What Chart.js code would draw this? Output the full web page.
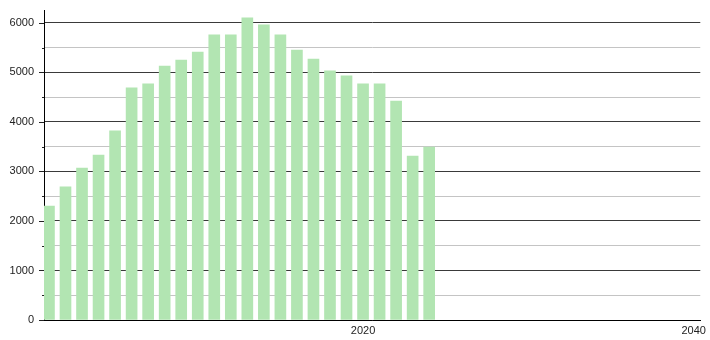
<!DOCTYPE html>
<html>
<head>
<meta charset="utf-8">
<script src="https://cdn.jsdelivr.net/npm/chart.js@4"></script>
<style>
  html, body { margin: 0; padding: 0; background: #fff; }
  canvas { display: block; }
</style>
</head>
<body>
<canvas id="grafico" width="710" height="340"></canvas>
<script>
// anos e valores
const anos = [2001, 2002, 2003, 2004, 2005, 2006, 2007, 2008, 2009, 2010, 2011, 2012,
  2013, 2014, 2015, 2016, 2017, 2018, 2019, 2020, 2021, 2022, 2023, 2024];
const valores = [2300, 2690, 3070, 3330, 3820, 4690, 4770, 5130, 5250, 5410, 5760, 5760,
  6100, 5960, 5760, 5450, 5270, 5030, 4930, 4770, 4770, 4420, 3310, 3490];
const rotulosX = [2020, 2040];
const ticksY = [0, 500, 1000, 1500, 2000, 2500, 3000, 3500, 4000, 4500, 5000, 5500, 6000];

const FONTE = { family: '"Liberation Sans", Arial, sans-serif', size: 11 };

// marcas do eixo y: maiores nos milhares, menores nos 500
const marcasY = {
  id: 'marcasY',
  afterDraw(chart) {
    const y = chart.scales.y;
    const ctx = chart.ctx;
    ctx.save();
    ctx.strokeStyle = '#222';
    ctx.lineWidth = 1;
    y.ticks.forEach((t) => {
      const py = Math.round(y.getPixelForValue(t.value)) + 0.5;
      const len = t.value % 1000 === 0 ? 5 : 2;
      ctx.beginPath();
      ctx.moveTo(y.right - len, py);
      ctx.lineTo(y.right, py);
      ctx.stroke();
    });
    ctx.restore();
  }
};

new Chart(document.getElementById('grafico'), {
  type: 'bar',
  data: {
    datasets: [{
      data: anos.map((a, i) => ({ x: a, y: valores[i] })),
      backgroundColor: 'rgb(178,229,178)',
      borderWidth: 0,
      barThickness: 11
    }]
  },
  options: {
    responsive: false,
    animation: false,
    devicePixelRatio: 1,
    layout: { padding: { top: 10, right: 9, left: 0, bottom: 0 } },
    plugins: { legend: { display: false }, tooltip: { enabled: false } },
    scales: {
      x: {
        type: 'linear',
        offset: false,
        min: 2000.7,
        max: 2040.4,
        afterBuildTicks: (s) => { s.ticks = rotulosX.map((v) => ({ value: v })); },
        afterFit: (s) => { s.height = 20; },
        grid: { display: false, drawTicks: false },
        border: { display: true, color: '#000', width: 1 },
        ticks: { font: FONTE, color: '#222', padding: 4, maxRotation: 0, autoSkip: false,
          callback: (v) => String(v) }
      },
      y: {
        min: 0,
        max: 6260,
        afterBuildTicks: (s) => { s.ticks = ticksY.map((v) => ({ value: v })); },
        // o padding dos rótulos não deve empurrar a área do gráfico para baixo
        afterFit: (s) => { s.width = 44; s.paddingTop = 0; s.paddingBottom = 0; },
        grid: {
          drawTicks: false,
          color: (c) => (c.tick && c.tick.value % 1000 === 0 ? '#3a3a3a' : '#c4c4c4'),
          lineWidth: 1
        },
        border: { display: true, color: '#000', width: 1 },
        ticks: { font: FONTE, color: '#222', padding: 10, autoSkip: false,
          callback: (v) => (v % 1000 === 0 ? String(v) : '') }
      }
    }
  },
  plugins: [marcasY]
});
</script>
</body>
</html>
